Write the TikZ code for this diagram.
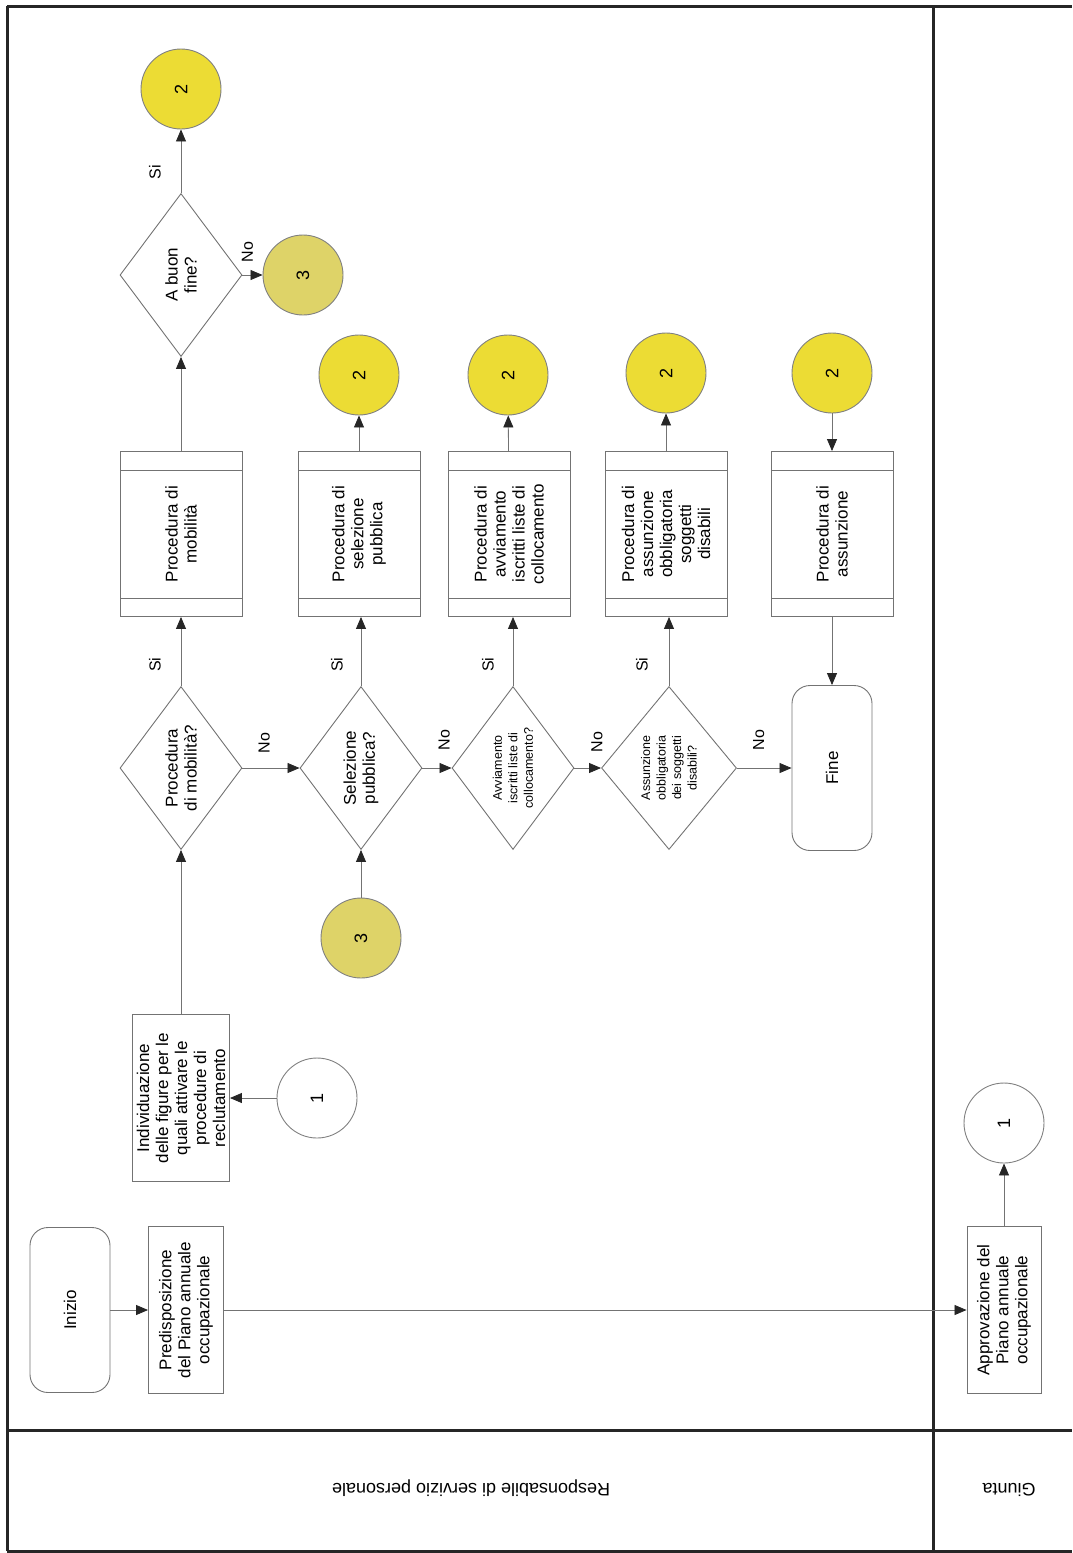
\documentclass[tikz,border=0pt]{standalone}
\usepackage{fontspec}
\setmainfont{Liberation Sans}
\usetikzlibrary{shapes.geometric,arrows.meta,calc}

\definecolor{jumpyellow}{RGB}{236,220,52}
\definecolor{backyellow}{RGB}{222,211,104}

\tikzset{
  flow/.style={draw=black!55, line width=0.9pt, rotate=90, align=center,
    font=\fontsize{17}{19}\selectfont},
  process/.style={flow, rectangle, inner sep=2pt},
  subprocess/.style={flow, rectangle, minimum width=165pt, minimum height=122pt},
  terminal/.style={flow, rectangle, rounded corners=18pt,
    minimum width=165pt, minimum height=80pt},
  decision/.style={flow, diamond, aspect=1.34, inner sep=0pt,
    minimum width=163pt, minimum height=122pt},
  smalltext/.style={font=\fontsize{12.5}{15.5}\selectfont},
  connector/.style={draw=black!50, line width=0.9pt, circle, minimum size=80pt,
    inner sep=0pt, rotate=90, font=\fontsize{18}{20}\selectfont},
  jump/.style={connector, fill=jumpyellow},
  backjump/.style={connector, fill=backyellow},
  link/.style={draw=black!55, line width=0.8pt,
    -{Triangle[length=12pt,width=10pt,color=black!85]}},
  answer/.style={rotate=90, font=\fontsize{16}{18}\selectfont},
  lane/.style={line width=3pt, draw=black!85},
}

\newcommand{\procbars}[1]{%
  \draw[black!55, line width=0.9pt]
    ($(#1.south west)!19pt!(#1.south east)$) -- ($(#1.north west)!19pt!(#1.north east)$);
  \draw[black!55, line width=0.9pt]
    ($(#1.south east)!19pt!(#1.south west)$) -- ($(#1.north east)!19pt!(#1.north west)$);}

\begin{document}
\begin{tikzpicture}[x=1pt,y=-1pt]
  \useasboundingbox (0,0) rectangle (1072,1553);

  % swimlanes
  \draw[lane] (7,6) -- (1072,6);
  \draw[lane] (7,6) -- (7,1551);
  \draw[lane] (7,1551) -- (1072,1551);
  \draw[lane] (933,6) -- (933,1551);
  \draw[lane] (7,1430) -- (1072,1430);
  \node (respLane) at (471,1488)
        [rotate=180, font=\fontsize{18}{20}\selectfont]
        {Responsabile di servizio personale};
  \node (giuntaLane) at (1009,1490)
        [rotate=180, font=\fontsize{18}{20}\selectfont]
        {Giunta};

  % first row
  \node (inizio) at (70,1310)
        [terminal]
        {Inizio};
  \node (predisposizione) at (186,1310)
        [process, minimum width=167pt, minimum height=75pt]
        {Predisposizione\\del Piano annuale\\occupazionale};
  \node (approvazione) at (1004,1310)
        [process, minimum width=167pt, minimum height=74pt]
        {Approvazione del\\Piano annuale\\occupazionale};
  \node (giuntaUno) at (1004,1123)
        [connector]
        {1};
  \node (respUno) at (317,1098)
        [connector]
        {1};
  \node (individuazione) at (181,1098)
        [process, minimum width=167pt, minimum height=97pt]
        {Individuazione\\delle figure per le\\quali attivare le\\procedure di\\reclutamento};

  % decisions
  \node (askMobilita) at (181,768)
        [decision]
        {Procedura\\di mobilità?};
  \node (askSelezione) at (361,768)
        [decision]
        {Selezione\\pubblica?};
  \node (askAvviamento) at (513,768)
        [decision, smalltext]
        {Avviamento\\iscritti liste di\\collocamento?};
  \node (askAssunzione) at (669,768)
        [decision, smalltext, minimum height=135pt]
        {Assunzione\\obbligatoria\\dei soggetti\\disabili?};
  \node (fine) at (832,768)
        [terminal]
        {Fine};
  \node (tornaTre) at (361,938)
        [backjump]
        {3};

  % procedures
  \node (procMobilita) at (181,534)
        [subprocess]
        {Procedura di\\mobilità};
  \node (procSelezione) at (359,534)
        [subprocess]
        {Procedura di\\selezione\\pubblica};
  \node (procAvviamento) at (509,534)
        [subprocess]
        {Procedura di\\avviamento\\iscritti liste di\\collocamento};
  \node (procObbligatoria) at (666,534)
        [subprocess]
        {Procedura di\\assunzione\\obbligatoria\\soggetti\\disabili};
  \node (procAssunzione) at (832,534)
        [subprocess]
        {Procedura di\\assunzione};
  \procbars{procMobilita}
  \procbars{procSelezione}
  \procbars{procAvviamento}
  \procbars{procObbligatoria}
  \procbars{procAssunzione}

  % connectors on top
  \node (askBuonFine) at (181,275)
        [decision]
        {A buon\\fine?};
  \node (esitoDue) at (181,89)
        [jump]
        {2};
  \node (esitoTre) at (303,275)
        [backjump]
        {3};
  \node (selezioneDue) at (359,375)
        [jump]
        {2};
  \node (avviamentoDue) at (508,375)
        [jump]
        {2};
  \node (obbligatoriaDue) at (666,373)
        [jump]
        {2};
  \node (assunzioneDue) at (832,373)
        [jump]
        {2};

  \draw[link] (inizio) -- (predisposizione);
  \draw[link] (predisposizione) -- (approvazione);
  \draw[link] (approvazione) -- (giuntaUno);
  \draw[link] (respUno) -- (individuazione);
  \draw[link] (individuazione) -- (askMobilita);
  \draw[link] (askMobilita) -- node[pos=0.31, xshift=-26pt, answer] {Si} (procMobilita);
  \draw[link] (askMobilita) -- node[pos=0.38, yshift=25pt, answer] {No} (askSelezione);
  \draw[link] (tornaTre) -- (askSelezione);
  \draw[link] (askSelezione) -- node[pos=0.31, xshift=-24pt, answer] {Si} (askSelezione |- procSelezione.west);
  \draw[link] (askSelezione) -- node[pos=0.75, yshift=28pt, answer] {No} (askAvviamento);
  \draw[link] (askAvviamento) -- node[pos=0.31, xshift=-25pt, answer] {Si} (askAvviamento |- procAvviamento.west);
  \draw[link] (askAvviamento) -- node[pos=0.85, yshift=26pt, answer] {No} (askAssunzione);
  \draw[link] (askAssunzione) -- node[pos=0.31, xshift=-27pt, answer] {Si} (askAssunzione |- procObbligatoria.west);
  \draw[link] (askAssunzione) -- node[pos=0.4, yshift=28pt, answer] {No} (fine);
  \draw[link] (procMobilita) -- (askBuonFine);
  \draw[link] (askBuonFine) -- node[pos=0.33, xshift=-26pt, answer] {Si} (esitoDue);
  \draw[link] (askBuonFine) -- node[pos=0.25, yshift=23pt, answer] {No} (esitoTre);
  \draw[link] (procSelezione) -- (selezioneDue);
  \draw[link] (procAvviamento) -- (avviamentoDue);
  \draw[link] (procObbligatoria) -- (obbligatoriaDue);
  \draw[link] (assunzioneDue) -- (procAssunzione);
  \draw[link] (procAssunzione) -- (fine);
\end{tikzpicture}
\end{document}
